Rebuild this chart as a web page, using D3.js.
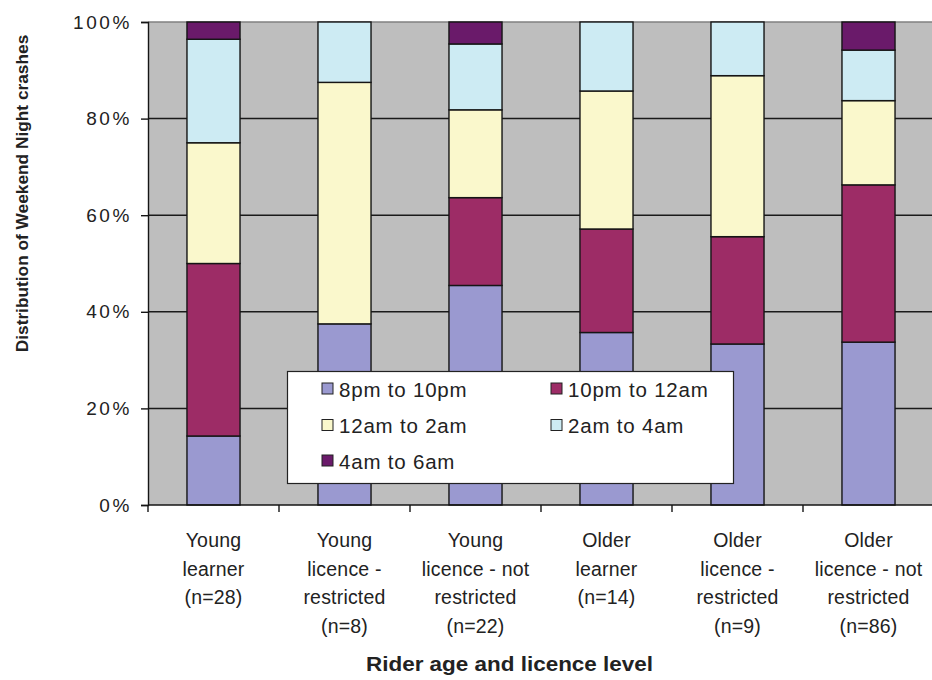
<!DOCTYPE html>
<html>
<head>
<meta charset="utf-8">
<script src="https://cdn.jsdelivr.net/npm/d3@7"></script>
<style>
  html, body { margin: 0; padding: 0; background: #fff; }
  svg { display: block; }
  text { font-family: Arial, "Liberation Sans", sans-serif; fill: #222; }
</style>
</head>
<body>
<svg id="chart" width="932" height="680"></svg>
<script>
// Rider groups (x-axis categories), one label line per entry
const categoryLines = [
  ["Young", "learner", "(n=28)"],
  ["Young", "licence -", "restricted", "(n=8)"],
  ["Young", "licence - not", "restricted", "(n=22)"],
  ["Older", "learner", "(n=14)"],
  ["Older", "licence -", "restricted", "(n=9)"],
  ["Older", "licence - not", "restricted", "(n=86)"]
];
const categories = categoryLines.map(l => l.join(" "));

// Number of weekend night crashes in each time band, per rider group
const totals        = [28, 8, 22, 14, 9, 86];
const crashes8to10  = [4, 3, 10, 5, 3, 29];
const crashes10to12 = [10, 0, 4, 3, 2, 28];
const crashes12to2  = [7, 4, 4, 4, 3, 15];
const crashes2to4   = [6, 1, 3, 2, 1, 9];
const crashes4to6   = [1, 0, 1, 0, 0, 5];

const seriesNames  = ["8pm to 10pm", "10pm to 12am", "12am to 2am", "2am to 4am", "4am to 6am"];
const seriesColors = ["#9a99d0", "#9d2c66", "#faf8cc", "#cdebf3", "#6a1a6a"];
const yTickValues  = [0, 0.2, 0.4, 0.6, 0.8, 1];

const seriesCounts = [crashes8to10, crashes10to12, crashes12to2, crashes2to4, crashes4to6];
const rows = categories.map((c, i) => {
  const r = { category: c, n: totals[i] };
  seriesNames.forEach((s, k) => { r[s] = seriesCounts[k][i]; });
  return r;
});

const svg = d3.select("#chart");
const plot = { left: 148, right: 934, top: 22, bottom: 505 };

const x = d3.scaleBand().domain(categories).range([plot.left, plot.right]).padding(0);
const barW = x.bandwidth() * 0.405;
const y = d3.scaleLinear().domain([0, 1]).range([plot.bottom, plot.top]);

const stacked = d3.stack().keys(seriesNames).offset(d3.stackOffsetExpand)(rows);

// Plot background
svg.append("rect")
  .attr("x", plot.left).attr("y", plot.top)
  .attr("width", plot.right - plot.left).attr("height", plot.bottom - plot.top)
  .attr("fill", "#bebebe");

// Horizontal gridlines
svg.append("g").selectAll("line")
  .data(yTickValues.filter(v => v > 0 && v < 1))
  .join("line")
  .attr("x1", plot.left).attr("x2", plot.right)
  .attr("y1", d => y(d)).attr("y2", d => y(d))
  .attr("stroke", "#1a1a1a").attr("stroke-width", 1.5);

svg.append("line")
  .attr("x1", plot.left).attr("x2", plot.right)
  .attr("y1", y(1)).attr("y2", y(1))
  .attr("stroke", "#808080").attr("stroke-width", 1.4);

// Stacked bars
svg.append("g").selectAll("g")
  .data(stacked)
  .join("g")
  .attr("fill", (d, i) => seriesColors[i])
  .selectAll("rect")
  .data(d => d.filter(p => p[1] - p[0] > 0))
  .join("rect")
  .attr("x", d => x(d.data.category) + (x.bandwidth() - barW) / 2)
  .attr("width", barW)
  .attr("y", d => y(d[1]))
  .attr("height", d => y(d[0]) - y(d[1]))
  .attr("stroke", "#151515").attr("stroke-width", 1.4);

// Y axis
const yAxis = d3.axisLeft(y).tickValues(yTickValues).tickFormat(d3.format(".0%"))
  .tickSize(7).tickPadding(9);
const gy = svg.append("g").attr("transform", `translate(${plot.left},0)`).call(yAxis);
gy.select(".domain").attr("stroke", "#151515").attr("stroke-width", 1.4);
gy.selectAll(".tick line").attr("stroke", "#151515").attr("stroke-width", 1.4);
gy.selectAll(".tick text")
  .attr("font-size", 19).attr("fill", "#2a2a2a")
  .style("letter-spacing", "2.6px")
  .attr("font-family", "Arial, 'Liberation Sans', sans-serif");

// X axis: line with ticks at category boundaries
svg.append("line")
  .attr("x1", plot.left).attr("x2", plot.right)
  .attr("y1", plot.bottom).attr("y2", plot.bottom)
  .attr("stroke", "#151515").attr("stroke-width", 1.4);
svg.append("g").selectAll("line")
  .data(categories)
  .join("line")
  .attr("x1", d => x(d)).attr("x2", d => x(d))
  .attr("y1", plot.bottom).attr("y2", plot.bottom + 7)
  .attr("stroke", "#151515").attr("stroke-width", 1.4);

// Category labels
const lineH = 28.5;
svg.append("g").selectAll("text")
  .data(categoryLines.map((l, i) => ({ lines: l, cat: categories[i] })))
  .join("text")
  .attr("text-anchor", "middle")
  .attr("font-size", 19.5)
  .attr("fill", "#2a2a2a")
  .style("letter-spacing", "0.2px")
  .each(function (d) {
    d3.select(this).selectAll("tspan")
      .data(d.lines)
      .join("tspan")
      .attr("x", x(d.cat) + x.bandwidth() / 2)
      .attr("y", (t, j) => 547 + j * lineH)
      .text(t => t);
  });

// Axis titles
svg.append("text")
  .attr("x", 509.5).attr("y", 671)
  .attr("text-anchor", "middle")
  .attr("font-size", 20.5).attr("font-weight", "bold")
  .attr("textLength", 287).attr("lengthAdjust", "spacingAndGlyphs")
  .text("Rider age and licence level");

svg.append("text")
  .attr("transform", `translate(28,${(35 + 352) / 2}) rotate(-90)`)
  .attr("text-anchor", "middle")
  .attr("font-size", 17.3).attr("font-weight", "bold")
  .text("Distribution of Weekend Night crashes");

// Legend
const legend = svg.append("g");
legend.append("rect")
  .attr("x", 287.5).attr("y", 371.5).attr("width", 446).attr("height", 112)
  .attr("fill", "#fff").attr("stroke", "#222").attr("stroke-width", 1.2);

const legendPos = [
  [322, 389], [551, 389],
  [322, 425.5], [551, 425.5],
  [322, 461]
];
const items = legend.selectAll("g.item")
  .data(seriesNames)
  .join("g").attr("class", "item")
  .attr("transform", (d, i) => `translate(${legendPos[i][0]},${legendPos[i][1]})`);
items.append("rect")
  .attr("x", 0).attr("y", -6).attr("width", 11).attr("height", 11)
  .attr("fill", (d, i) => seriesColors[i])
  .attr("stroke", "#222").attr("stroke-width", 1);
items.append("text")
  .attr("x", 17).attr("y", 7.5)
  .attr("font-size", 20.5)
  .attr("fill", "#2a2a2a")
  .style("letter-spacing", "0.8px")
  .text(d => d);
</script>
</body>
</html>
